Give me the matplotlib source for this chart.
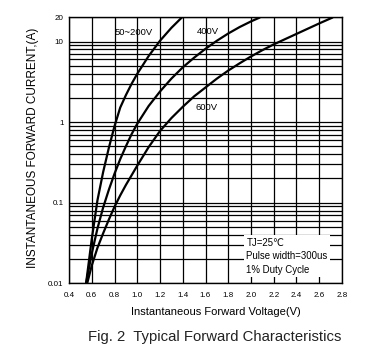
import numpy as np
import matplotlib
matplotlib.use('Agg')
import matplotlib.pyplot as plt

plt.rcParams['font.family'] = ['Liberation Sans', 'DejaVu Sans']

# readings: voltage (V) and log10 of current (A)
v_200 = [0.55, 0.60, 0.65, 0.70, 0.75, 0.80, 0.85, 0.90, 0.95, 1.0, 1.1, 1.2, 1.3, 1.4]
lg_200 = [-2, -1.45, -0.97, -0.62, -0.32, -0.05, 0.18, 0.335, 0.475, 0.60, 0.82, 1.01, 1.17, 1.31]

v_400 = [0.55, 0.60, 0.65, 0.70, 0.75, 0.80, 0.85, 0.90, 0.95, 1.0, 1.1, 1.2, 1.3, 1.4,
         1.5, 1.6, 1.7, 1.8, 1.9, 2.0, 2.08]
lg_400 = [-2, -1.63, -1.32, -1.06, -0.84, -0.64, -0.46, -0.30, -0.15, -0.02, 0.20, 0.38, 0.54, 0.68,
          0.80, 0.91, 1.01, 1.10, 1.18, 1.25, 1.30]

v_600 = [0.56, 0.60, 0.65, 0.70, 0.75, 0.80, 0.85, 0.90, 1.0, 1.1, 1.2, 1.3, 1.4, 1.5,
         1.6, 1.7, 1.8, 1.9, 2.0, 2.1, 2.2, 2.3, 2.4, 2.5, 2.6, 2.72]
lg_600 = [-2, -1.78, -1.56, -1.38, -1.21, -1.05, -0.91, -0.78, -0.54, -0.31, -0.11, 0.05, 0.19, 0.32,
          0.43, 0.54, 0.64, 0.73, 0.815, 0.893, 0.965, 1.03, 1.095, 1.16, 1.225, 1.30]

xticks = [0.4, 0.6, 0.8, 1.0, 1.2, 1.4, 1.6, 1.8, 2.0, 2.2, 2.4, 2.6, 2.8]
yticks = [0.01, 0.1, 1, 10, 20]
ytick_labels = ['0.01', '0.1', '1', '10', '20']

fig = plt.figure(figsize=(3.86, 3.58), dpi=100)
ax = fig.add_axes([0.1788, 0.2087, 0.7072, 0.743])

for v, lg in [(v_200, lg_200), (v_400, lg_400), (v_600, lg_600)]:
    ax.plot(v, 10.0 ** np.array(lg), color='black', lw=1.6, solid_capstyle='butt')

ax.set_yscale('log')
ax.set_xlim(0.4, 2.8)
ax.set_ylim(0.01, 20)
ax.set_xticks(xticks)
ax.set_xticklabels(['%.1f' % x for x in xticks])
ax.set_yticks(yticks)
ax.set_yticklabels(ytick_labels)
minor = [m * 10.0 ** d for d in range(-2, 1) for m in range(2, 10)]
ax.set_yticks(minor, minor=True)
ax.yaxis.set_minor_formatter(matplotlib.ticker.NullFormatter())
ax.grid(True, which='both', color='black', lw=0.9)
ax.tick_params(which='both', length=0, labelsize=5.8)
ax.tick_params(axis='x', pad=6)
ax.tick_params(axis='y', pad=4)
for s in ax.spines.values():
    s.set_linewidth(1.0)

ax.text(0.80, 13.1, '50~200V', fontsize=6.8, ha='left', va='center')
ax.text(1.52, 13.5, '400V', fontsize=6.8, ha='left', va='center')
ax.text(1.51, 1.5, '600V', fontsize=6.8, ha='left', va='center')
ax.text(1.96, 0.0217, 'TJ=25\u2103\nPulse width=300us\n1% Duty Cycle', fontsize=6.9,
        ha='left', va='center', linespacing=1.45,
        bbox=dict(facecolor='white', edgecolor='none', pad=1.5))

fig.text(216 / 386, 1 - 312 / 358, 'Instantaneous Forward Voltage(V)', fontsize=8,
         ha='center', va='center')
fig.text(33 / 386, 1 - 148 / 358, 'INSTANTANEOUS FORWARD CURRENT,(A)', fontsize=8.5,
         ha='center', va='center', rotation=90)
fig.text(215 / 386, 1 - 337 / 358, 'Fig. 2  Typical Forward Characteristics', fontsize=10.7,
         ha='center', va='center', color='#222222')

fig.savefig('out.png', dpi=100)
